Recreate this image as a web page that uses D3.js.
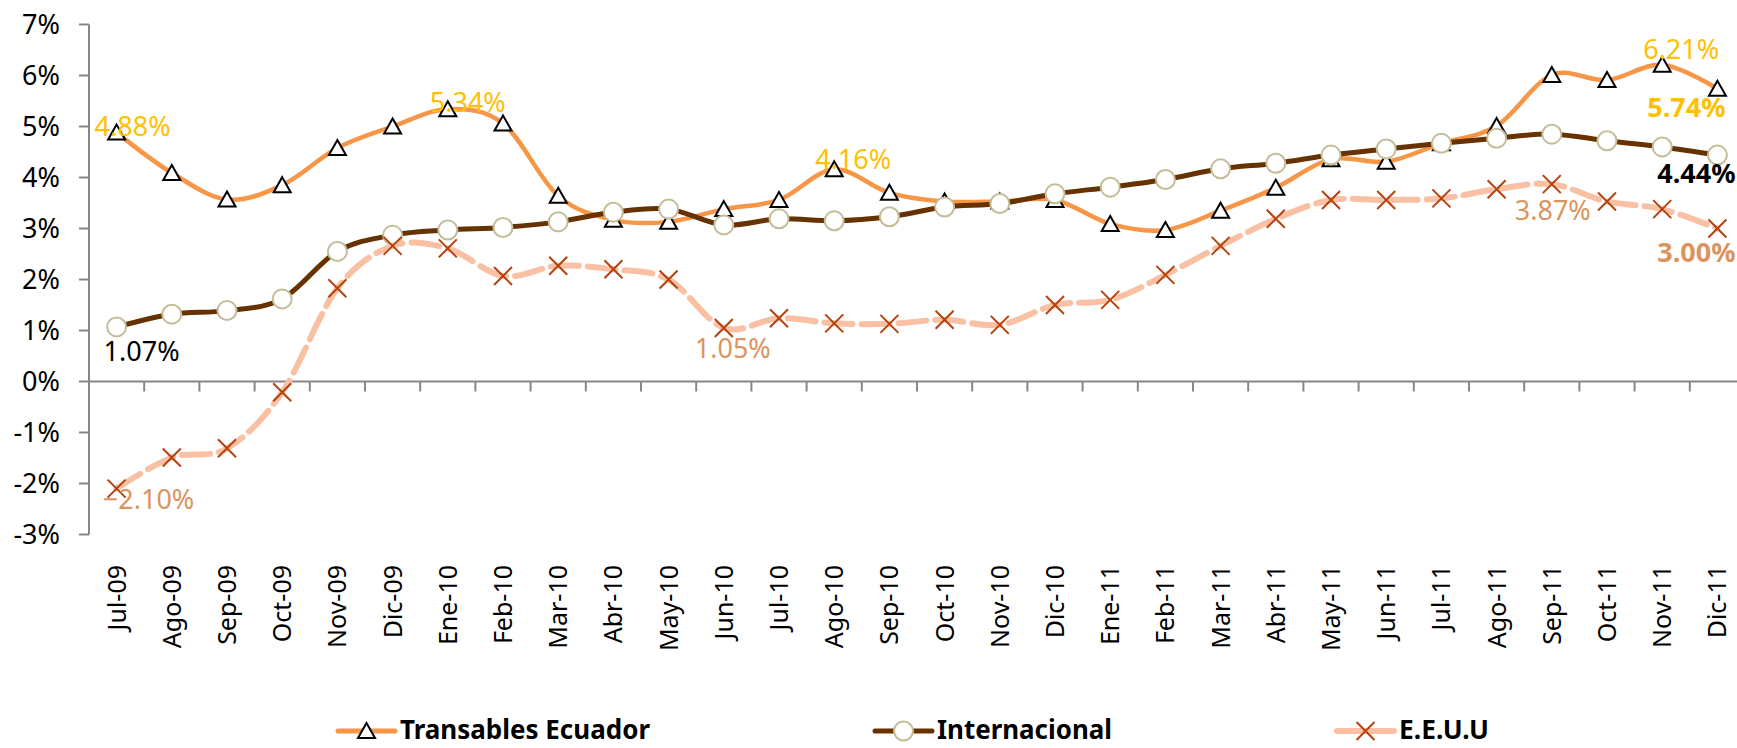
<!DOCTYPE html>
<html lang="es">
<head>
<meta charset="utf-8">
<script src="https://d3js.org/d3.v7.min.js"></script>
<style>
  body { margin: 0; background: #fff; }
  text { font-family: "Noto Sans", sans-serif; }
</style>
</head>
<body>
<script>

// data //
const months = ["Jul-09","Ago-09","Sep-09","Oct-09","Nov-09","Dic-09","Ene-10","Feb-10","Mar-10","Abr-10",
  "May-10","Jun-10","Jul-10","Ago-10","Sep-10","Oct-10","Nov-10","Dic-10","Ene-11","Feb-11",
  "Mar-11","Abr-11","May-11","Jun-11","Jul-11","Ago-11","Sep-11","Oct-11","Nov-11","Dic-11"]

const transables = [4.88,4.09,3.57,3.85,4.58,5.00,5.34,5.06,3.64,3.17,3.13,3.38,3.56,4.16,3.70,3.53,3.53,3.56,3.09,2.97,
  3.35,3.80,4.36,4.31,4.67,5.01,6.01,5.91,6.21,5.74]
const internacional = [1.07,1.32,1.39,1.62,2.55,2.87,2.97,3.02,3.13,3.32,3.38,3.07,3.19,3.15,3.23,3.42,3.49,3.68,3.81,3.96,
  4.17,4.28,4.44,4.56,4.67,4.77,4.85,4.72,4.60,4.44]
const eeuu = [-2.10,-1.49,-1.31,-0.21,1.83,2.66,2.61,2.07,2.27,2.20,2.00,1.05,1.24,1.14,1.13,1.21,1.11,1.50,1.60,2.09,
  2.66,3.19,3.56,3.56,3.59,3.77,3.87,3.53,3.38,3.00]

const seriesNames = ["Transables Ecuador", "Internacional", "E.E.U.U"]
const yTicks = [-3,-2,-1,0,1,2,3,4,5,6,7]

// which points carry a value label (series index, month index)
const labelled = [[0,0],[0,6],[0,13],[0,28],[0,29],[1,0],[1,29],[2,0],[2,11],[2,26],[2,29]]

const width = 1737, height = 748

const svg = d3.select('body').append('svg')
  .attr('width', width)
  .attr('height', height)

const x = d3.scaleBand().domain(months).range([89, 89 + 30 * 55.2])
const y = d3.scaleLinear().domain([-3, 7]).range([534.5, 24.5])
const cx = d => x(d) + x.bandwidth() / 2

// axes //
const axisColor = '#868686'
svg.append('line')
  .attr('x1', 89).attr('x2', 89)
  .attr('y1', y(7)).attr('y2', y(-3))
  .attr('stroke', axisColor).attr('stroke-width', 2)
svg.selectAll('.ytick').data(yTicks).enter().append('line')
  .attr('x1', 79).attr('x2', 89)
  .attr('y1', d => y(d)).attr('y2', d => y(d))
  .attr('stroke', axisColor).attr('stroke-width', 2)
svg.selectAll('.ylab').data(yTicks).enter().append('text')
  .attr('x', 60).attr('y', d => y(d)).attr('dy', '0.35em')
  .attr('text-anchor', 'end')
  .attr('font-size', 27)
  .attr('fill', '#000')
  .text(d => d + '%')

svg.append('line')
  .attr('x1', 89).attr('x2', width)
  .attr('y1', y(0)).attr('y2', y(0))
  .attr('stroke', axisColor).attr('stroke-width', 2)
svg.selectAll('.xtick').data(d3.range(31)).enter().append('line')
  .attr('x1', i => 89 + i * x.step()).attr('x2', i => 89 + i * x.step())
  .attr('y1', y(0)).attr('y2', y(0) + 10)
  .attr('stroke', axisColor).attr('stroke-width', 2)
svg.selectAll('.xlab').data(months).enter().append('text')
  .attr('transform', d => 'translate(' + cx(d) + ',565) rotate(-90)')
  .attr('dy', '0.36em')
  .attr('text-anchor', 'end')
  .attr('font-family', '"DejaVu Sans", sans-serif')
  .attr('font-size', 25)
  .attr('fill', '#000')
  .text(d => d)

// lines //
const line = d3.line()
  .x((d, i) => cx(months[i]))
  .y(d => y(d))
  .curve(d3.curveCatmullRom.alpha(0))

const styles = [
  {stroke: '#F79646', width: 4.5, dash: null},
  {stroke: '#653200', width: 5, dash: null},
  {stroke: '#F9C0A3', width: 6, dash: '28,9'}
]
const allSeries = [transables, internacional, eeuu]

function triangle(g, px, py) {
  g.append('path')
    .attr('d', 'M' + px + ',' + (py - 8) + 'L' + (px + 8.5) + ',' + (py + 7) + 'L' + (px - 8.5) + ',' + (py + 7) + 'Z')
    .attr('fill', '#fff').attr('stroke', '#000').attr('stroke-width', 2)
}
function circle(g, px, py) {
  g.append('circle').attr('cx', px).attr('cy', py).attr('r', 9.5)
    .attr('fill', '#fff').attr('stroke', '#C4BD97').attr('stroke-width', 2)
}
function cross(g, px, py) {
  g.append('path')
    .attr('d', 'M' + (px - 9) + ',' + (py - 9) + 'L' + (px + 9) + ',' + (py + 9) + 'M' + (px + 9) + ',' + (py - 9) + 'L' + (px - 9) + ',' + (py + 9))
    .attr('fill', 'none').attr('stroke', '#B5420E').attr('stroke-width', 2)
}
const markers = [triangle, circle, cross]

allSeries.forEach(function(vals, s) {
  const g = svg.append('g')
  g.append('path')
    .attr('d', line(vals))
    .attr('fill', 'none')
    .attr('stroke', styles[s].stroke)
    .attr('stroke-width', styles[s].width)
    .attr('stroke-dasharray', styles[s].dash)
    .attr('stroke-linecap', 'round')
  vals.forEach(function(v, i) { markers[s](g, cx(months[i]), y(v)) })
})

// value labels //
const offsets = {
  '0,0': [16, 3, false], '0,6': [20, 2.5, false], '0,13': [19, 0, false],
  '0,28': [19, -5.5, false], '0,29': [-31, 28, true],
  '1,0': [25, 34, false], '1,29': [-21, 28, true],
  '2,0': [32, 20.5, false], '2,11': [9, 30, false], '2,26': [1, 36, false], '2,29': [-21, 33, true]
}
const labelColors = ['#FFC000', '#000000', '#DB9460']

labelled.forEach(function(p) {
  const s = p[0], i = p[1], v = allSeries[s][i]
  const o = offsets[s + ',' + i]
  svg.append('text')
    .attr('x', cx(months[i]) + o[0])
    .attr('y', y(v) + o[1])
    .attr('text-anchor', 'middle')
    .attr('font-size', 27)
    .attr('font-weight', o[2] ? 'bold' : 'normal')
    .attr('fill', labelColors[s])
    .text(d3.format('.2f')(v) + '%')
})

// legend //
const legendX = [338, 875, 1337]
const legendW = [250, 175, 90]
const ly = 731
seriesNames.forEach(function(name, s) {
  const g = svg.append('g')
  g.append('line')
    .attr('x1', legendX[s]).attr('x2', legendX[s] + 57)
    .attr('y1', ly).attr('y2', ly)
    .attr('stroke', styles[s].stroke)
    .attr('stroke-width', s == 2 ? 6 : 5)
    .attr('stroke-linecap', 'round')
  markers[s](g, legendX[s] + 28.5, ly)
  g.append('text')
    .attr('x', legendX[s] + 62)
    .attr('y', 739)
    .attr('font-size', 27)
    .attr('font-weight', 'bold')
    .attr('textLength', legendW[s])
    .attr('lengthAdjust', 'spacingAndGlyphs')
    .attr('fill', '#000')
    .text(name)
})

</script>
</body>
</html>
